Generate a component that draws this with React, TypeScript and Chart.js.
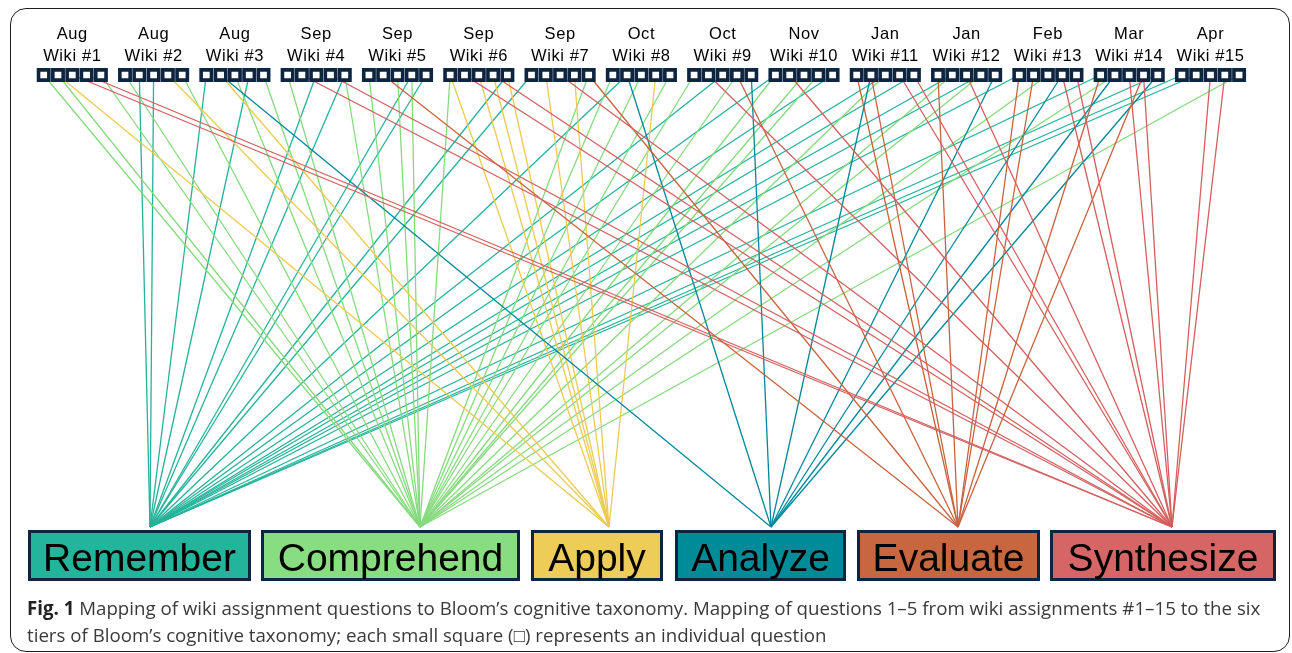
import { useEffect, useRef } from 'react';
import { Chart, registerables } from 'chart.js';

Chart.register(...registerables);

// ---------- data ----------
const months = ['Aug', 'Aug', 'Aug', 'Sep', 'Sep', 'Sep', 'Sep', 'Oct', 'Oct', 'Nov', 'Jan', 'Jan', 'Feb', 'Mar', 'Apr'];
const wikiNames = ['Wiki #1', 'Wiki #2', 'Wiki #3', 'Wiki #4', 'Wiki #5', 'Wiki #6', 'Wiki #7', 'Wiki #8', 'Wiki #9', 'Wiki #10', 'Wiki #11', 'Wiki #12', 'Wiki #13', 'Wiki #14', 'Wiki #15'];
const categories = ['Remember', 'Comprehend', 'Apply', 'Analyze', 'Evaluate', 'Synthesize'];
const categoryCodes = ['R', 'C', 'P', 'A', 'E', 'S'];
// tiers reached by questions 1-5 of each wiki (R=Remember, C=Comprehend, P=Apply, A=Analyze, E=Evaluate, S=Synthesize)
const questionTiers = [
  ['C', 'CP', 'S', 'S', 'C'],
  ['C', 'R', 'R', 'P', 'C'],
  ['R', 'PA', 'C', 'R', 'C'],
  ['C', 'S', 'R', 'S', 'RC'],
  ['C', 'E', 'C', 'RC', 'R'],
  ['CP', 'S', 'P', 'PS', 'RP'],
  ['R', 'P', 'S', 'P', 'CE'],
  ['C', 'RA', 'C', 'P', 'C'],
  ['C', 'S', 'R', 'EC', 'A'],
  ['RC', 'S', 'C', 'C', 'R'],
  ['E', 'AE', 'RC', 'S', 'RS'],
  ['E', 'RC', 'S', 'RC', 'A'],
  ['RE', 'E', 'C', 'SA', 'S'],
  ['RE', 'AC', 'S', 'SE', 'RA'],
  ['R', 'R', 'S', 'S', 'C'],
];

// ---------- layout & style ----------
const W = 1292;
const H = 653;
const GROUP_X0 = 72.3;
const GROUP_STEP = 81.3;
const SQ_STEP = 14.3;
const SQ_Y = 75;
const ANCHOR_Y = 527;
const tierAnchorX = [150, 420, 609, 771, 958, 1172];
const tierBoxes = [
  [28, 251],
  [261, 520],
  [531, 663],
  [675, 846],
  [857, 1040],
  [1050, 1276],
];
const BOX_TOP = 530;
const BOX_BOTTOM = 581;
const tierFill = ['#22b59b', '#88dd80', '#edcd58', '#008b98', '#c8663f', '#d66666'];
const tierLine = ['#22b39a', '#86da7e', '#ebcb50', '#00889a', '#c8623e', '#d45f5f'];
const NAVY = '#0e2542';

const squareX = (g: number, q: number) => GROUP_X0 + g * GROUP_STEP + (q - 2) * SQ_STEP;

const decorPlugin = {
  id: 'decor',
  beforeDatasetsDraw(chart: any) {
    const { ctx, scales } = chart;
    const xs = scales.x;
    const ys = scales.y;
    ctx.save();
    tierBoxes.forEach(([l, r], i) => {
      const x0 = xs.getPixelForValue(l);
      const x1 = xs.getPixelForValue(r);
      const y0 = ys.getPixelForValue(BOX_TOP);
      const y1 = ys.getPixelForValue(BOX_BOTTOM);
      ctx.fillStyle = tierFill[i];
      ctx.fillRect(x0, y0, x1 - x0, y1 - y0);
      ctx.strokeStyle = NAVY;
      ctx.lineWidth = 3;
      ctx.strokeRect(x0 + 1.5, y0 + 1.5, x1 - x0 - 3, y1 - y0 - 3);
    });
    ctx.restore();
  },
  afterDatasetsDraw(chart: any) {
    const { ctx, scales } = chart;
    const xs = scales.x;
    const ys = scales.y;
    ctx.save();
    ctx.fillStyle = '#000';
    ctx.textAlign = 'center';
    ctx.textBaseline = 'alphabetic';
    ctx.font = '39px "Liberation Sans", Arial, sans-serif';
    tierBoxes.forEach(([l, r], i) => {
      const cx = xs.getPixelForValue((l + r) / 2);
      ctx.fillText(categories[i], cx, ys.getPixelForValue(571));
    });
    ctx.font = '16.5px "Liberation Sans", Arial, sans-serif';
    try { (ctx as any).letterSpacing = '0.6px'; } catch (e) {}
    months.forEach((m, g) => {
      const cx = xs.getPixelForValue(GROUP_X0 + g * GROUP_STEP);
      ctx.fillText(m, cx, ys.getPixelForValue(38.5));
      ctx.fillText(wikiNames[g], cx, ys.getPixelForValue(60.5));
    });
    ctx.restore();
  },
};

export default function App() {
  const ref = useRef<HTMLCanvasElement | null>(null);

  useEffect(() => {
    if (!ref.current) return;
    const datasets: any[] = [];
    const squares: { x: number; y: number }[] = [];
    questionTiers.forEach((qs, g) => {
      qs.forEach((codes, q) => {
        const sx = squareX(g, q);
        squares.push({ x: sx, y: SQ_Y });
        codes.split('').forEach((c) => {
          const t = categoryCodes.indexOf(c);
          datasets.push({
            data: [
              { x: sx, y: SQ_Y },
              { x: tierAnchorX[t], y: ANCHOR_Y },
            ],
            showLine: true,
            borderColor: tierLine[t],
            borderWidth: 1.3,
            pointRadius: 0,
            order: 1,
          });
        });
      });
    });
    datasets.unshift({
      data: squares,
      showLine: false,
      pointStyle: 'rect',
      pointRadius: 7.3,
      pointBackgroundColor: '#ffffff',
      pointBorderColor: NAVY,
      pointBorderWidth: 3.6,
      order: 0,
    });

    const chart = new Chart(ref.current, {
      type: 'scatter',
      data: { datasets },
      options: {
        animation: false,
        responsive: false,
        devicePixelRatio: 1,
        layout: { padding: 0, autoPadding: false },
        events: [],
        scales: {
          x: { type: 'linear', min: 0, max: W, display: false },
          y: { type: 'linear', min: 0, max: H, reverse: true, display: false },
        },
        plugins: { legend: { display: false }, tooltip: { enabled: false } },
      },
      plugins: [decorPlugin],
    } as any);
    return () => chart.destroy();
  }, []);

  return (
    <div style={{ position: 'absolute', left: 0, top: 0, width: W, height: H, background: '#fff', overflow: 'hidden' }}>
      <div
        style={{
          position: 'absolute',
          left: 10,
          top: 8,
          width: 1280,
          height: 644,
          border: '1.5px solid #1f1f1f',
          borderRadius: 16,
          boxSizing: 'border-box',
        }}
      />
      <canvas ref={ref} width={W} height={H} style={{ position: 'absolute', left: 0, top: 0, width: W, height: H }} />
      <div
        style={{
          position: 'absolute',
          left: 27,
          top: 594,
          fontFamily: '"Open Sans", "Noto Sans", sans-serif',
          fontSize: 18.7,
          lineHeight: '27px',
          color: '#3a3a3a',
          whiteSpace: 'nowrap',
        }}
      >
        <b style={{ color: '#222' }}>Fig. 1</b> Mapping of wiki assignment questions to Bloom’s cognitive taxonomy. Mapping of questions 1–5 from wiki assignments #1–15 to the six
        <br />
        tiers of Bloom’s cognitive taxonomy; each small square (□) represents an individual question
      </div>
    </div>
  );
}
